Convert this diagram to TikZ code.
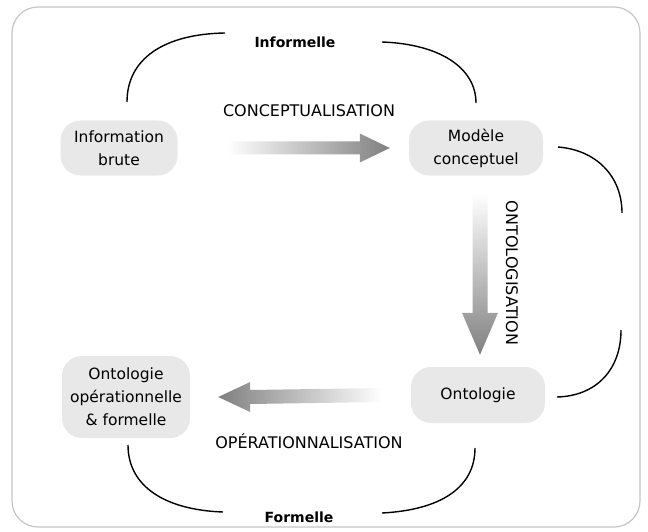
\documentclass[tikz,border=0pt]{standalone}
\usepackage{fontspec}
\setmainfont{DejaVu Sans}
\usetikzlibrary{calc}
\begin{document}
\begin{tikzpicture}[x=1pt,y=-1pt,
  box/.style={fill=gray!18, rounded corners=20pt, align=center, inner sep=0pt,
              font=\fontsize{15.5}{23}\selectfont},
  lbl/.style={font=\fontsize{16}{20}\selectfont, inner sep=0pt},
  ttl/.style={font=\bfseries\fontsize{14}{17}\selectfont, inner sep=0pt},
  bracket/.style={line width=1.4pt, black},
  fat/.style={draw=none},
]
\useasboundingbox (0,0) rectangle (648,532);
\fill[white] (0,0) rectangle (648,532);
\draw[gray!45, line width=1.2pt, rounded corners=26pt] (12,7) rectangle (640,527);

% nodes
\node[box, minimum width=117pt, minimum height=55pt] (ib) at (119,148) {Information\\brute};
\node[box, minimum width=134pt, minimum height=55pt] (mc) at (476,148) {Modèle\\conceptuel};
\node[box, minimum width=134pt, minimum height=56pt] (on) at (478,395) {Ontologie};
\node[box, minimum width=128pt, minimum height=82pt] (oof) at (126,397) {Ontologie\\opérationnelle\\\& formelle};

% labels
\node[ttl] (inf) at (295,42) {Informelle};
\node[ttl] (for) at (299,517) {Formelle};
\node[lbl] (l1) at (309,111) {CONCEPTUALISATION};
\node[lbl, rotate=-90] (l2) at (512,273) {ONTOLOGISATION};
\node[lbl] (l3) at (309,441) {OPÉRATIONNALISATION};

% gradient arrows
\shade[fat, left color=white, right color=black!50]
  ($(ib.east)+(49,-6.5)$) -- ($(mc.west)+(-49,-6.5)$) -- ($(mc.west)+(-49,-14.5)$)
  -- ($(mc.west)+(-19,0)$) -- ($(mc.west)+(-49,14.5)$) -- ($(mc.west)+(-49,6.5)$)
  -- ($(ib.east)+(49,6.5)$) -- cycle;
\shade[fat, top color=white, bottom color=black!50]
  ($(mc.south)+(-3.5,18)$) -- ($(on.north)+(-5.5,-54)$) -- ($(on.north)+(-16,-54)$)
  -- ($(on.north)+(2,-12)$) -- ($(on.north)+(20,-54)$) -- ($(on.north)+(9.5,-54)$)
  -- ($(mc.south)+(11.5,18)$) -- cycle;
\shade[fat, left color=black!50, right color=white]
  ($(on.west)+(-29,-7)$) -- ($(oof.east)+(60,-7)$) -- ($(oof.east)+(60,-15)$)
  -- ($(oof.east)+(28,0)$) -- ($(oof.east)+(60,15)$) -- ($(oof.east)+(60,7)$)
  -- ($(on.west)+(-29,7)$) -- cycle;

% brackets
\coordinate (tl1) at (127,102); \coordinate (tl2) at (225,33);
\coordinate (tr1) at (382,42);  \coordinate (tr2) at (476,103);
\coordinate (rt1) at (558,147); \coordinate (rt2) at (622,213);
\coordinate (rb1) at (621,330); \coordinate (rb2) at (557,397);
\coordinate (bl1) at (128,445); \coordinate (bl2) at (223,512);
\coordinate (br1) at (382,513); \coordinate (br2) at (475,448);

\draw[bracket] (tl1) .. controls (127,58) and (165,34) .. (tl2);
\draw[bracket] (tr1) .. controls (440,44) and (476,68) .. (tr2);
\draw[bracket] (rt1) .. controls (596,150) and (622,176) .. (rt2);
\draw[bracket] (rb1) .. controls (621,370) and (596,396) .. (rb2);
\draw[bracket] (bl1) .. controls (128,487) and (166,510) .. (bl2);
\draw[bracket] (br1) .. controls (440,510) and (475,488) .. (br2);
\end{tikzpicture}
\end{document}
